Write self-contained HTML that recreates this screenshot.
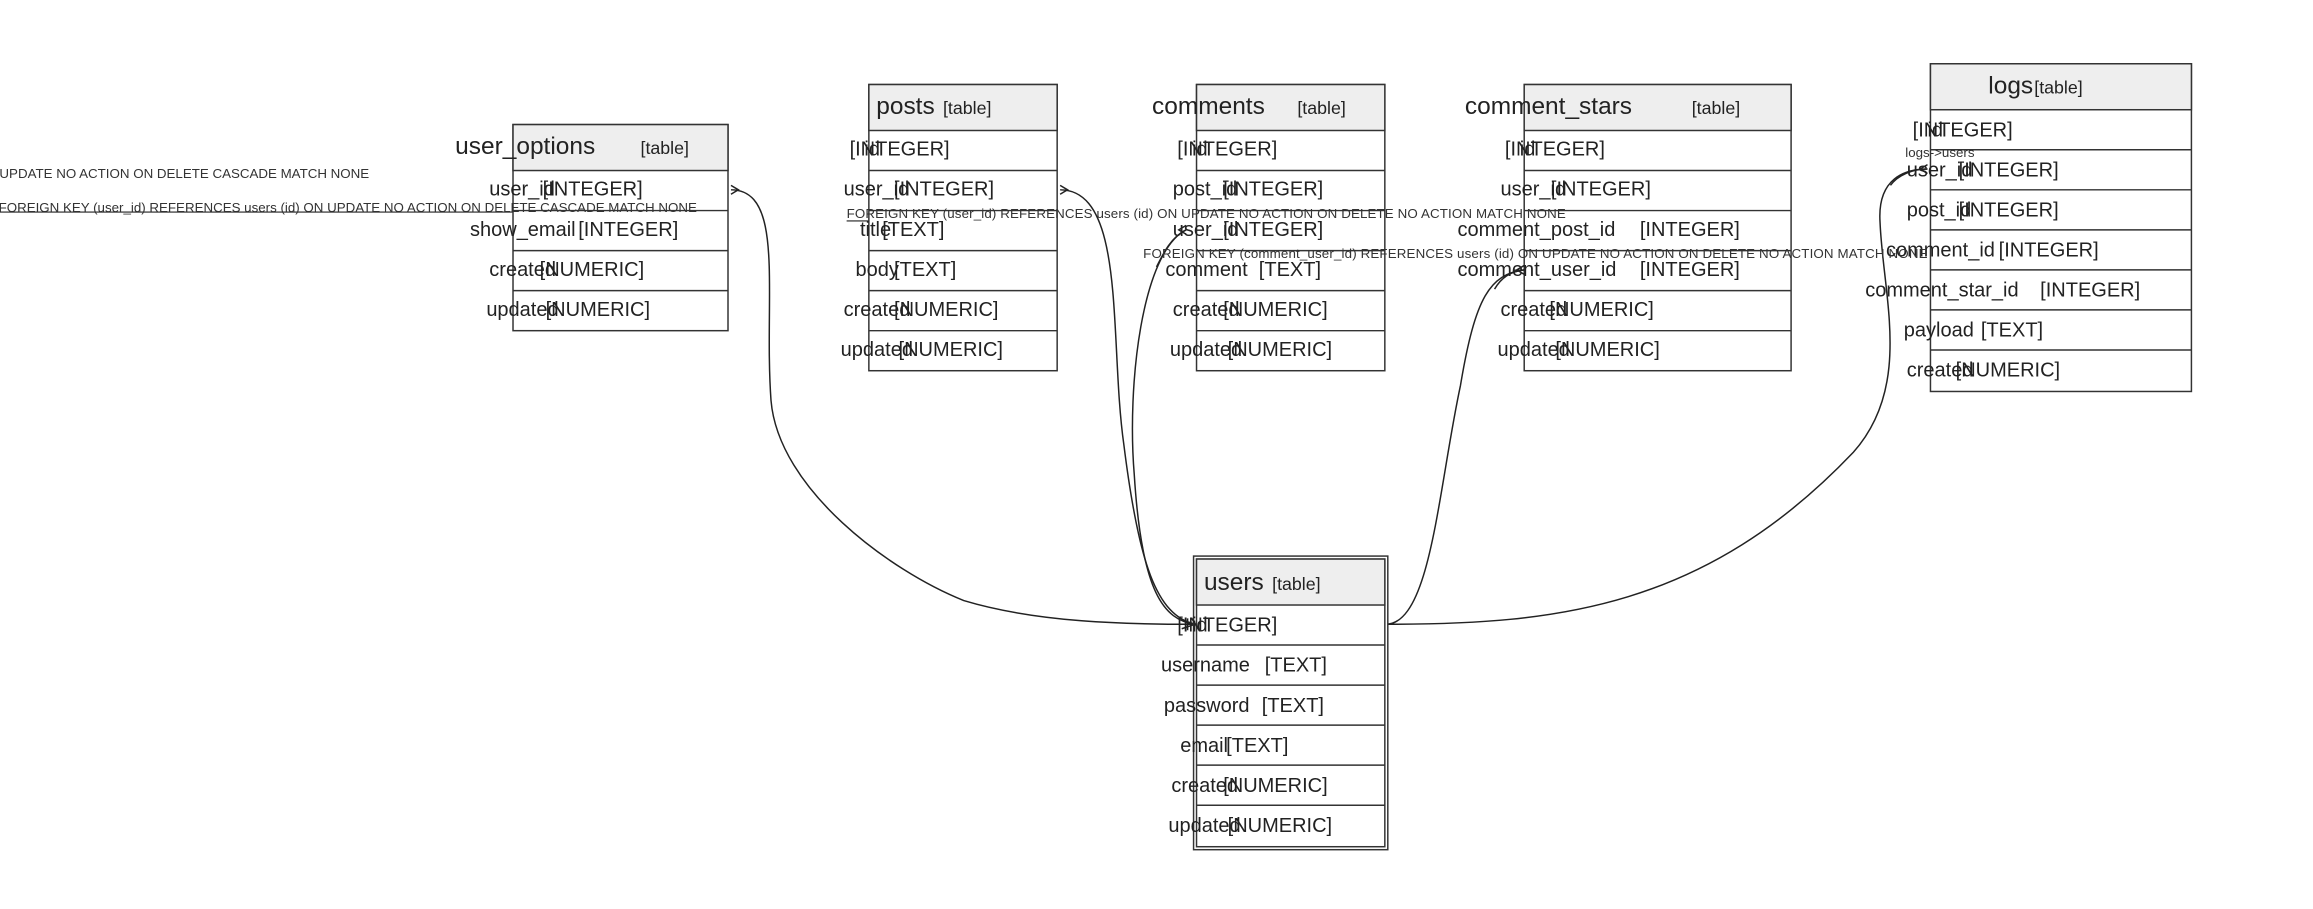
<!DOCTYPE html>
<html><head><meta charset="utf-8"><style>
html,body{margin:0;padding:0;background:#fff;overflow:hidden}
svg{display:block}
text{font-family:"Liberation Sans",sans-serif;fill:#222}
.r{font-size:13.5px}
.t{font-size:16.5px}
.s{font-size:12px}
.l{font-size:9px;fill:#333}
</style></head><body>
<svg width="2313" height="909" viewBox="0 0 1560 613" preserveAspectRatio="none" xmlns="http://www.w3.org/2000/svg">
<g fill="none" stroke="#222" stroke-width="1">
<path d="M493,128 C530,128 515,200 520,270 C525,330 600,385 650,405 C700,420 760,421 806,421"/>
<path d="M715,128 C760,128 748,230 758,300 C768,380 780,415 806,421"/>
<path d="M800,155 C770,170 760,260 765,320 C770,400 785,418 806,421"/>
<path d="M935,421 C965,420 970,330 985,260 C995,200 1005,185 1028,182"/>
<path d="M935,421 C1050,421 1150,410 1250,305 C1290,260 1270,200 1268,150 C1266,120 1285,114 1300,114"/>
<path d="M493,125 L498,128 L493,131"/>
<path d="M715,125 L720,128 L715,131"/>
<path d="M0,143 L491,143" stroke-width="0.8"/>
<path d="M571,149 L713,149" stroke-width="0.8"/>
<path d="M797,418 L806,421 L797,424 M801,417 V425"/>
</g>
<!-- boxes -->
<g stroke="#333" stroke-width="1">
<rect x="346" y="84" width="145" height="139" fill="#fff"/><rect x="346" y="84" width="145" height="31" fill="#eee"/>
<path d="M346,142H491M346,169H491M346,196H491"/>
<rect x="586" y="57" width="127" height="193" fill="#fff"/><rect x="586" y="57" width="127" height="31" fill="#eee"/>
<path d="M586,115H713M586,142H713M586,169H713M586,196H713M586,223H713"/>
<rect x="807" y="57" width="127" height="193" fill="#fff"/><rect x="807" y="57" width="127" height="31" fill="#eee"/>
<path d="M807,115H934M807,142H934M807,169H934M807,196H934M807,223H934"/>
<rect x="1028" y="57" width="180" height="193" fill="#fff"/><rect x="1028" y="57" width="180" height="31" fill="#eee"/>
<path d="M1028,115H1208M1028,142H1208M1028,169H1208M1028,196H1208M1028,223H1208"/>
<rect x="1302" y="43" width="176" height="221" fill="#fff"/><rect x="1302" y="43" width="176" height="31" fill="#eee"/>
<path d="M1302,101H1478M1302,128H1478M1302,155H1478M1302,182H1478M1302,209H1478M1302,236H1478"/>
<rect x="805" y="375" width="131" height="198" fill="#fff"/>
<rect x="807" y="377" width="127" height="194" fill="#fff"/><rect x="807" y="377" width="127" height="31" fill="#eee"/>
<path d="M807,435H934M807,462H934M807,489H934M807,516H934M807,543H934"/>
</g>
<!-- re-draw connectors over boxes partially -->
<g fill="none" stroke="#222" stroke-width="1">
<path d="M800,155 C790,160 785,170 780,180"/>
<path d="M1028,182 C1018,183 1012,188 1008,195"/>
<path d="M1300,114 C1290,114 1280,118 1275,125"/>
<path d="M1300,111 L1295,114 L1300,117"/>
<path d="M800,152 L795,155 L800,158"/>
<path d="M1028,179 L1023,182 L1028,185"/>
</g>
<!-- user_options -->
<text class="t" x="307" y="104">user_options</text><text class="s" x="432" y="104">[table]</text>
<text class="r" x="330" y="132">user_id</text><text class="r" x="366" y="132">[INTEGER]</text>
<text class="r" x="317" y="159">show_email</text><text class="r" x="390" y="159">[INTEGER]</text>
<text class="r" x="330" y="186">created</text><text class="r" x="364" y="186">[NUMERIC]</text>
<text class="r" x="328" y="213">updated</text><text class="r" x="368" y="213">[NUMERIC]</text>
<!-- posts -->
<text class="t" x="591" y="77">posts</text><text class="s" x="636" y="77">[table]</text>
<text class="r" x="573" y="105">[INTEGER]</text><text class="r" x="583" y="105">id</text>
<text class="r" x="569" y="132">user_id</text><text class="r" x="603" y="132">[INTEGER]</text>
<text class="r" x="580" y="159">title</text><text class="r" x="595" y="159">[TEXT]</text>
<text class="r" x="577" y="186">body</text><text class="r" x="603" y="186">[TEXT]</text>
<text class="r" x="569" y="213">created</text><text class="r" x="603" y="213">[NUMERIC]</text>
<text class="r" x="567" y="240">updated</text><text class="r" x="606" y="240">[NUMERIC]</text>
<!-- comments -->
<text class="t" x="777" y="77">comments</text><text class="s" x="875" y="77">[table]</text>
<text class="r" x="794" y="105">[INTEGER]</text><text class="r" x="804" y="105">id</text>
<text class="r" x="791" y="132">post_id</text><text class="r" x="825" y="132">[INTEGER]</text>
<text class="r" x="791" y="159">user_id</text><text class="r" x="825" y="159">[INTEGER]</text>
<text class="r" x="786" y="186">comment</text><text class="r" x="849" y="186">[TEXT]</text>
<text class="r" x="791" y="213">created</text><text class="r" x="825" y="213">[NUMERIC]</text>
<text class="r" x="789" y="240">updated</text><text class="r" x="828" y="240">[NUMERIC]</text>
<!-- comment_stars -->
<text class="t" x="988" y="77">comment_stars</text><text class="s" x="1141" y="77">[table]</text>
<text class="r" x="1015" y="105">[INTEGER]</text><text class="r" x="1025" y="105">id</text>
<text class="r" x="1012" y="132">user_id</text><text class="r" x="1046" y="132">[INTEGER]</text>
<text class="r" x="983" y="159">comment_post_id</text><text class="r" x="1106" y="159">[INTEGER]</text>
<text class="r" x="983" y="186">comment_user_id</text><text class="r" x="1106" y="186">[INTEGER]</text>
<text class="r" x="1012" y="213">created</text><text class="r" x="1045" y="213">[NUMERIC]</text>
<text class="r" x="1010" y="240">updated</text><text class="r" x="1049" y="240">[NUMERIC]</text>
<!-- logs -->
<text class="t" x="1341" y="63">logs</text><text class="s" x="1372" y="63">[table]</text>
<text class="r" x="1290" y="92">[INTEGER]</text><text class="r" x="1300" y="92">id</text>
<text class="r" x="1286" y="119">user_id</text><text class="r" x="1321" y="119">[INTEGER]</text>
<text class="r" x="1286" y="146">post_id</text><text class="r" x="1321" y="146">[INTEGER]</text>
<text class="r" x="1272" y="173">comment_id</text><text class="r" x="1348" y="173">[INTEGER]</text>
<text class="r" x="1258" y="200">comment_star_id</text><text class="r" x="1376" y="200">[INTEGER]</text>
<text class="r" x="1284" y="227">payload</text><text class="r" x="1336" y="227">[TEXT]</text>
<text class="r" x="1286" y="254">created</text><text class="r" x="1319" y="254">[NUMERIC]</text>
<!-- users -->
<text class="t" x="812" y="398">users</text><text class="s" x="858" y="398">[table]</text>
<text class="r" x="794" y="426">[INTEGER]</text><text class="r" x="804" y="426">id</text>
<text class="r" x="783" y="453">username</text><text class="r" x="853" y="453">[TEXT]</text>
<text class="r" x="785" y="480">password</text><text class="r" x="851" y="480">[TEXT]</text>
<text class="r" x="796" y="507">email</text><text class="r" x="827" y="507">[TEXT]</text>
<text class="r" x="790" y="534">created</text><text class="r" x="825" y="534">[NUMERIC]</text>
<text class="r" x="788" y="561">updated</text><text class="r" x="828" y="561">[NUMERIC]</text>
<!-- labels -->
<text class="l" x="249" y="120" text-anchor="end">ON UPDATE NO ACTION ON DELETE CASCADE MATCH NONE</text>
<text class="l" x="470" y="143" text-anchor="end">FOREIGN KEY (user_id) REFERENCES users (id) ON UPDATE NO ACTION ON DELETE CASCADE MATCH NONE</text>
<text class="l" x="571" y="147" textLength="485">FOREIGN KEY (user_id) REFERENCES users (id) ON UPDATE NO ACTION ON DELETE NO ACTION MATCH NONE</text>
<text class="l" x="771" y="174" textLength="529">FOREIGN KEY (comment_user_id) REFERENCES users (id) ON UPDATE NO ACTION ON DELETE NO ACTION MATCH NONE</text>
<text class="l" x="1285" y="106">logs-&gt;users</text>
</svg>
</body></html>
